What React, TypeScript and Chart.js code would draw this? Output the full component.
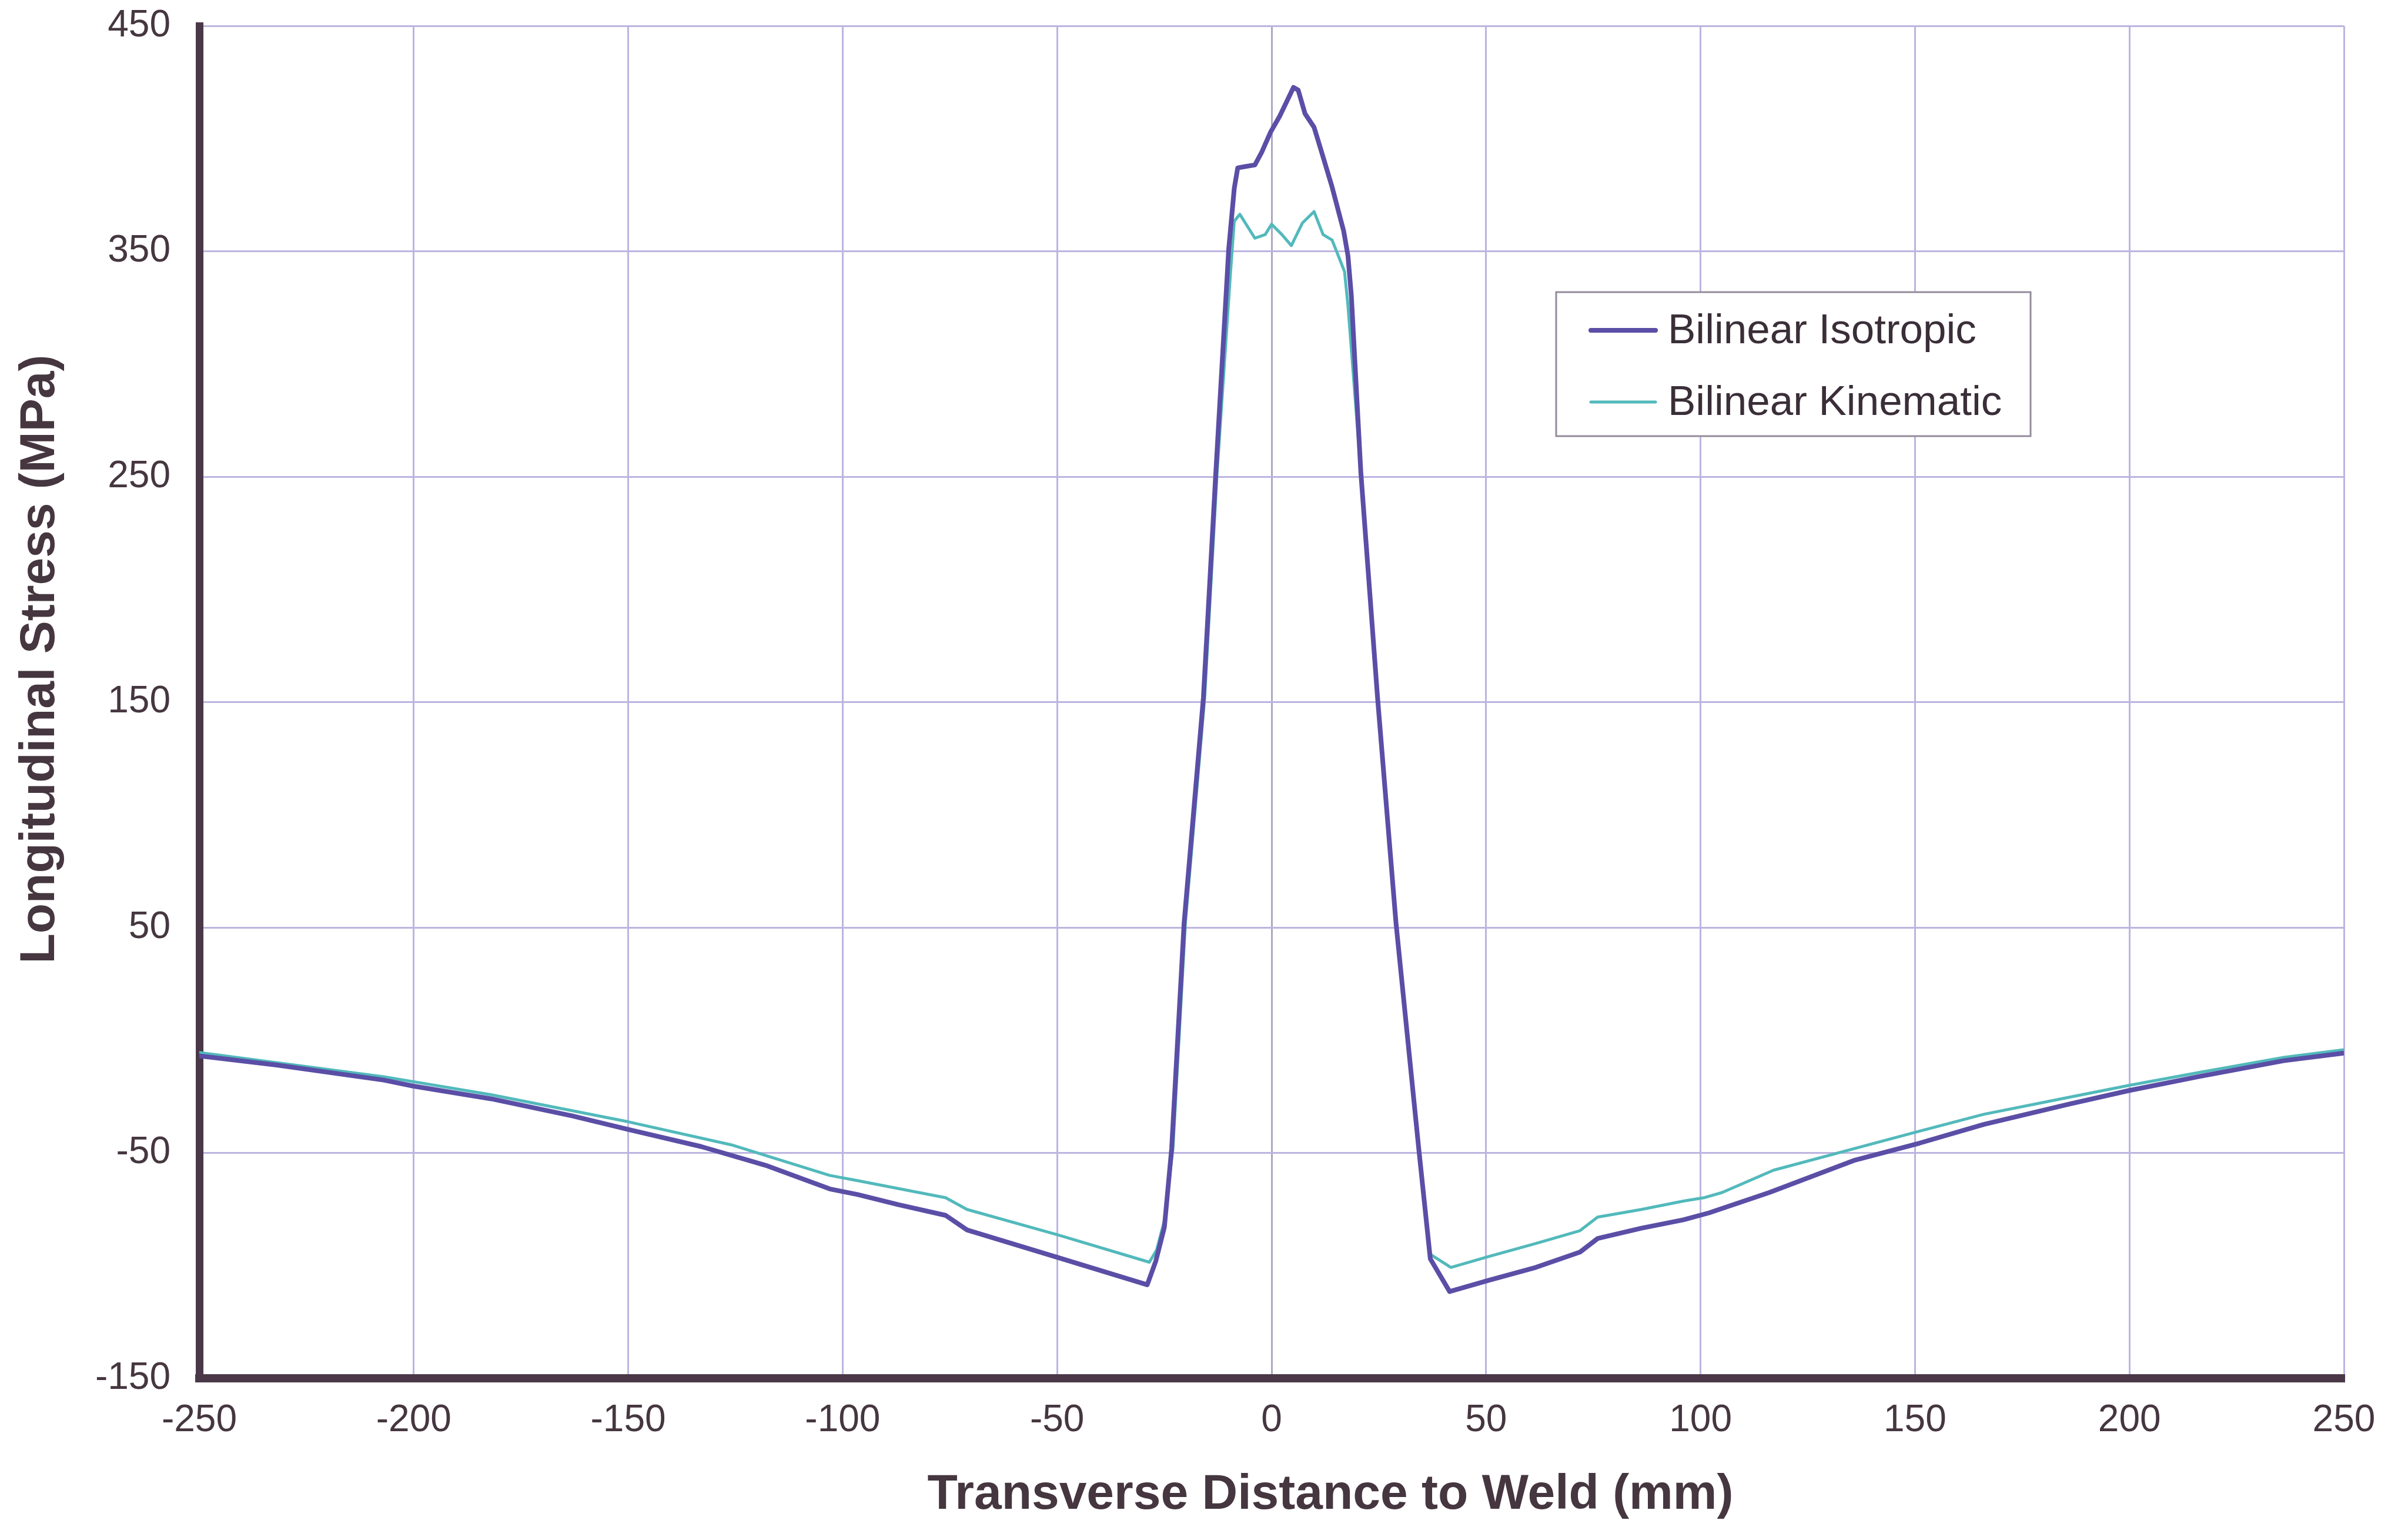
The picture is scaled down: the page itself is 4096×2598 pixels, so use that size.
import React, { useEffect, useRef } from "react";
import { Chart, registerables } from "chart.js";

Chart.register(...registerables);

// ---- Data ----
const isoX = [-250, -232, -207, -200, -182, -163, -150, -133, -118, -103, -96.5, -87, -76, -71, -50, -29, -27, -25, -23.3, -20.4, -15.9, -13, -10, -8.7, -7.9, -6.1, -3.9, -2.3, -0.2, 1.9, 5.1, 6.2, 7.8, 9.9, 11.5, 14.1, 16.8, 17.8, 18.6, 20.8, 24.7, 29, 34.3, 37, 41.5, 50.7, 61.6, 71.9, 76, 86.2, 96, 102, 116, 136, 151, 166, 186, 200, 216, 236, 250];
const isoY = [-7, -11, -17.7, -20.4, -26, -33.6, -39.6, -47.2, -55.5, -66, -68.5, -73, -77.7, -84.2, -96.3, -108.5, -98, -83, -48, 52, 152, 252, 351, 378, 387, 387.6, 388.3, 394, 403, 410, 422.7, 421.5, 411, 405, 395, 378.5, 359, 348, 330, 252, 152, 52, -48, -97, -111.5, -106.5, -100.8, -94, -88, -83.4, -79.7, -76.6, -67.6, -53.2, -45.7, -37.4, -28.3, -22.3, -16.2, -9.1, -5.7];

const kinX = [-250, -207, -182, -150, -126, -103, -96.5, -76, -71, -50, -28.5, -26.8, -25, -23, -20.1, -15.6, -12.7, -9.6, -8.7, -7.4, -3.9, -1.5, 0, 2.4, 4.6, 7.2, 9.9, 12, 14.1, 17, 17.8, 20.8, 24.7, 29, 34.3, 37, 41.8, 50.7, 61.6, 71.9, 76, 86.2, 96, 101, 105, 117, 136, 151, 166, 186, 200, 216, 236, 250];
const kinY = [-5.5, -16.2, -24.2, -36.2, -46.4, -60, -62.3, -69.9, -75.1, -86.3, -98.5, -93, -80, -48, 52, 152, 252, 340, 363.4, 366.4, 355.8, 357.4, 362, 357.4, 352.5, 362.6, 367.6, 357.4, 355, 341, 326, 252, 152, 52, -48, -95, -100.8, -95.9, -90.2, -84.5, -78.5, -75.1, -71.4, -69.8, -67.6, -57.7, -48, -40.4, -32.9, -25.3, -20, -14.4, -7.6, -4.2];

const seriesNames = ["Bilinear Isotropic", "Bilinear Kinematic"];
const xTitle = "Transverse Distance to Weld (mm)";
const yTitle = "Longitudinal Stress (MPa)";
const xRange = [-250, 250];
const xStep = 50;
const yRange = [-150, 450];
const yStep = 100;

// ---- Styles ----
const W = 4096;
const H = 2598;
const FONT = '"Liberation Sans", Arial, Helvetica, sans-serif';
const ISO_COLOR = "#5a4ea6";
const KIN_COLOR = "#52b9bb";
const AXIS_COLOR = "#4a3848";
const TEXT_COLOR = "#45363f";
const GRID_COLOR = "#bdb4e0";

const toPoints = (xs: number[], ys: number[]) => xs.map((x, i) => ({ x, y: ys[i] }));

const overlayPlugin = {
  id: "overlay",
  afterDraw(chart: any) {
    const { ctx, chartArea: a } = chart;
    ctx.save();
    // Axis titles
    ctx.fillStyle = TEXT_COLOR;
    ctx.font = `bold 84px ${FONT}`;
    ctx.textAlign = "center";
    ctx.textBaseline = "alphabetic";
    ctx.fillText(xTitle, (a.left + a.right) / 2 + 100, a.bottom + 222);
    ctx.save();
    ctx.translate(92, (a.top + a.bottom) / 2 - 73);
    ctx.rotate(-Math.PI / 2);
    ctx.fillText(yTitle, 0, 0);
    ctx.restore();

    // Legend box
    const bx = a.right - 1340;
    const by = a.top + 453;
    const bw = 807;
    const bh = 245;
    ctx.fillStyle = "#ffffff";
    ctx.fillRect(bx, by, bw, bh);
    ctx.strokeStyle = "#948b9c";
    ctx.lineWidth = 3;
    ctx.strokeRect(bx, by, bw, bh);
    const rows = [65, 187];
    chart.data.datasets.forEach((ds: any, i: number) => {
      const y = by + rows[i];
      ctx.strokeStyle = ds.borderColor;
      ctx.lineWidth = ds.borderWidth;
      ctx.lineCap = "round";
      ctx.beginPath();
      ctx.moveTo(bx + 59, y);
      ctx.lineTo(bx + 169, y);
      ctx.stroke();
      ctx.fillStyle = "#3a2e38";
      ctx.font = `71px ${FONT}`;
      ctx.textAlign = "left";
      ctx.textBaseline = "middle";
      ctx.fillText(ds.label, bx + 190, y + 2);
    });
    ctx.restore();
  },
};

export default function App() {
  const canvasRef = useRef<HTMLCanvasElement | null>(null);

  useEffect(() => {
    const canvas = canvasRef.current;
    if (!canvas) return;
    const chart = new Chart(canvas, {
      type: "line",
      data: {
        datasets: [
          {
            label: seriesNames[0],
            data: toPoints(isoX, isoY),
            borderColor: ISO_COLOR,
            backgroundColor: ISO_COLOR,
            borderWidth: 8,
            pointRadius: 0,
            tension: 0,
            borderJoinStyle: "round",
            borderCapStyle: "round",
          },
          {
            label: seriesNames[1],
            data: toPoints(kinX, kinY),
            borderColor: KIN_COLOR,
            backgroundColor: KIN_COLOR,
            borderWidth: 5,
            pointRadius: 0,
            tension: 0,
            borderJoinStyle: "round",
            borderCapStyle: "round",
          },
        ],
      },
      options: {
        responsive: false,
        maintainAspectRatio: false,
        devicePixelRatio: 1,
        animation: false,
        layout: { padding: { left: 0, right: 109, top: 44, bottom: 0 } },
        plugins: {
          legend: { display: false },
          tooltip: { enabled: false },
          title: { display: false },
        },
        scales: {
          x: {
            type: "linear",
            min: xRange[0],
            max: xRange[1],
            ticks: {
              stepSize: xStep,
              padding: 34,
              maxRotation: 0,
              autoSkip: false,
              color: TEXT_COLOR,
              font: { family: FONT, size: 64 },
            },
            grid: {
              color: (c: any) => (c.tick && c.tick.value === 0 ? "#aea7c6" : GRID_COLOR),
              lineWidth: 3,
              drawTicks: false,
            },
            border: { display: true, color: AXIS_COLOR, width: 14 },
            afterFit: (scale: any) => {
              scale.height = 253;
              scale.paddingLeft = 0;
              scale.paddingRight = 0;
            },
          },
          y: {
            type: "linear",
            min: yRange[0],
            max: yRange[1],
            ticks: {
              stepSize: yStep,
              padding: 49,
              color: TEXT_COLOR,
              font: { family: FONT, size: 64 },
            },
            grid: {
              color: GRID_COLOR,
              lineWidth: 3,
              drawTicks: false,
            },
            border: { display: true, color: AXIS_COLOR, width: 13 },
            afterFit: (scale: any) => {
              scale.width = 339;
              scale.paddingTop = 0;
              scale.paddingBottom = 0;
            },
          },
        },
      },
      plugins: [overlayPlugin],
    } as any);
    return () => chart.destroy();
  }, []);

  return (
    <div
      style={{
        position: "fixed",
        left: 0,
        top: 0,
        width: W,
        height: H,
        background: "#ffffff",
      }}
    >
      <canvas ref={canvasRef} width={W} height={H} style={{ display: "block", width: W, height: H }} />
    </div>
  );
}
